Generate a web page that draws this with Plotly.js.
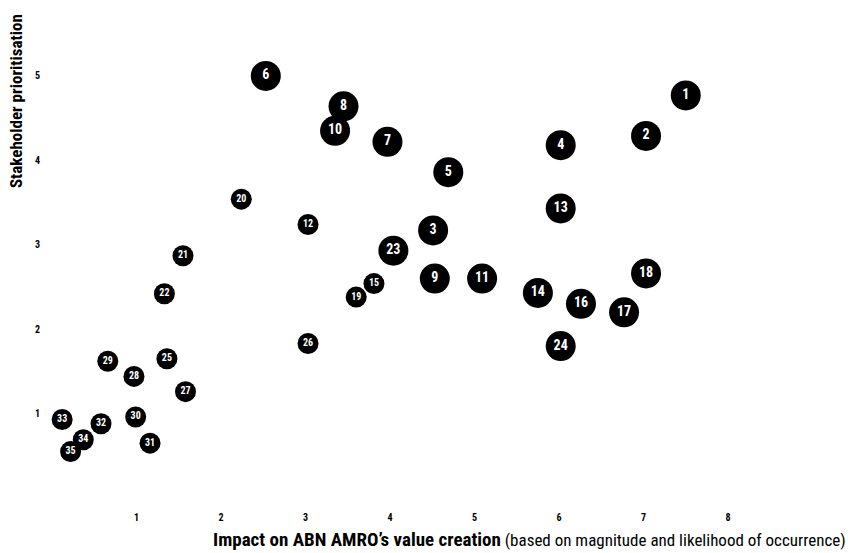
<!DOCTYPE html>
<html>
<head>
<meta charset="utf-8">
<script src="https://cdn.plot.ly/plotly-3.0.1.min.js"></script>
<style>
html,body{margin:0;padding:0;background:#fff;}
#chart{width:848px;height:553px;}
</style>
</head>
<body>
<div id="chart"></div>
<script>
// Topic numbers
const topics = ['1','2','3','4','5','6','7','8','9','10','11','12','13','14','15','16','17','18','19','20','21','22','23','24','25','26','27','28','29','30','31','32','33','34','35'];
// Impact on value creation (x)
const impact = [7.50,7.03,4.51,6.02,4.69,2.53,3.97,3.45,4.53,3.35,5.09,3.03,6.02,5.75,3.81,6.26,6.77,7.03,3.60,2.24,1.55,1.33,4.04,6.02,1.36,3.03,1.58,0.97,0.66,0.99,1.16,0.58,0.12,0.37,0.22];
// Stakeholder prioritisation (y)
const priority = [4.77,4.29,3.17,4.18,3.86,5.00,4.22,4.64,2.60,4.35,2.60,3.24,3.43,2.43,2.54,2.30,2.20,2.66,2.38,3.54,2.87,2.42,2.93,1.80,1.65,1.83,1.26,1.44,1.62,0.96,0.65,0.88,0.93,0.69,0.55];
// Bubble class: 2 = material (large), 1 = other (small)
const weight = [2,2,2,2,2,2,2,2,2,2,2,1,2,2,1,2,2,2,1,1,1,1,2,2,1,1,1,1,1,1,1,1,1,1,1];
// Axis tick labels
const xTicks = [1,2,3,4,5,6,7,8];
const yTicks = [1,2,3,4,5];

const FONT = '"Roboto Condensed", "Liberation Sans Narrow", "Arial Narrow", Roboto, sans-serif';

const trace = {
  type: 'scatter',
  mode: 'markers+text',
  x: impact,
  y: priority,
  text: topics.map(t => '<b>' + t + '</b>'),
  textposition: 'middle center',
  textfont: {family: FONT, color: '#ffffff', size: weight.map(w => w === 2 ? 14 : 10)},
  marker: {color: '#000000', opacity: 1, size: weight.map(w => w === 2 ? 30 : 21), line: {width: 0}},
  hoverinfo: 'none',
  cliponaxis: false
};

const layout = {
  width: 848, height: 553,
  margin: {l: 52, r: 0, t: 0, b: 54.5},
  paper_bgcolor: '#ffffff', plot_bgcolor: '#ffffff',
  showlegend: false,
  font: {family: FONT, color: '#000'},
  xaxis: {
    range: [0, 9.42], tickvals: xTicks, ticktext: xTicks.map(v => '<b>' + v + '</b>'),
    showgrid: false, zeroline: false, showline: false, ticks: '',
    ticklabelstandoff: 12, tickfont: {family: FONT, size: 10, color: '#000'}
  },
  yaxis: {
    range: [0, 5.9], tickvals: yTicks, ticktext: yTicks.map(v => '<b>' + v + '</b>'),
    showgrid: false, zeroline: false, showline: false, ticks: '',
    ticklabelstandoff: 11, tickfont: {family: FONT, size: 10, color: '#000'}
  },
  annotations: [
    {
      xref: 'paper', yref: 'paper', x: -0.0452, y: 0.797,
      xanchor: 'center', yanchor: 'middle', textangle: -90, showarrow: false,
      text: '<b>Stakeholder prioritisation</b>',
      font: {family: FONT, size: 17, color: '#000'}
    },
    {
      xref: 'paper', yref: 'paper', x: 1, y: -0.0832,
      xanchor: 'right', yanchor: 'middle', showarrow: false,
      text: '<span style="font-size:19px"><b>Impact on ABN AMRO’s value creation</b></span> (based on magnitude and likelihood of occurrence)',
      font: {family: FONT, size: 17, color: '#000'}
    }
  ]
};

Plotly.newPlot('chart', [trace], layout, {staticPlot: true, displayModeBar: false});
</script>
</body>
</html>
